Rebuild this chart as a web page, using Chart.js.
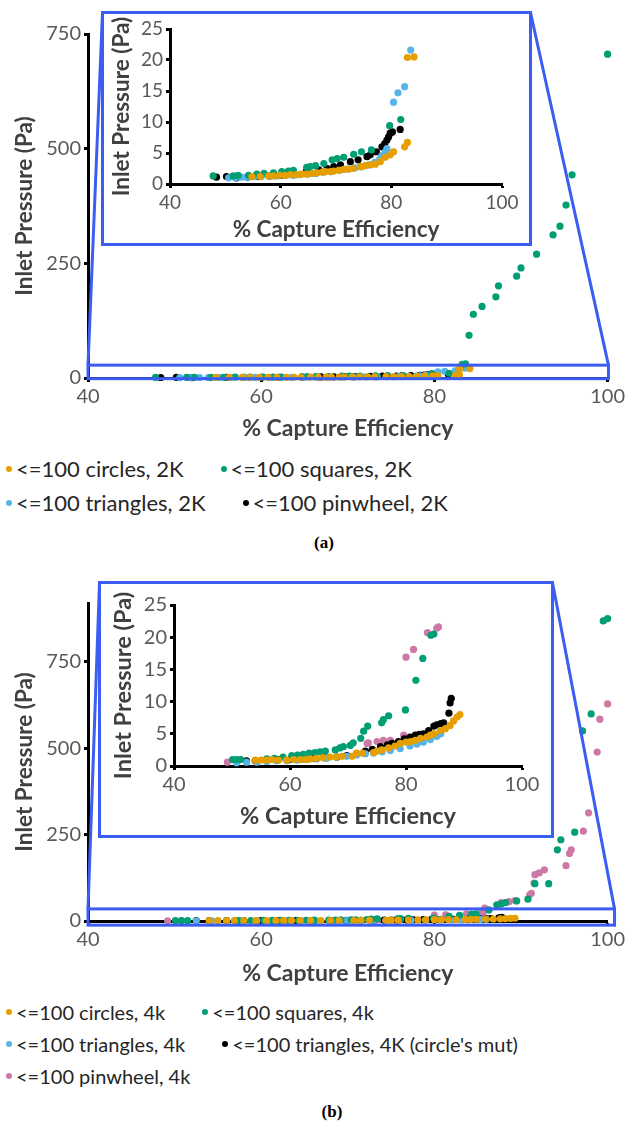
<!DOCTYPE html>
<html>
<head>
<meta charset="utf-8">
<script src="https://cdn.jsdelivr.net/npm/chart.js@4.4.1/dist/chart.umd.min.js"></script>
<style>
  html, body { margin: 0; padding: 0; background: #fff; }
  body { width: 628px; height: 1123px; position: relative; overflow: hidden; font-family: Lato, "Open Sans", sans-serif; }
  canvas { position: absolute; display: block; }
  .inset { position: absolute; box-sizing: border-box; border: 3px solid #3c5df2; background: #fff; }
  .inset canvas { left: 0; top: 0; }
  .legend { position: absolute; left: 0; display: flex; flex-wrap: wrap; padding-left: 6px; box-sizing: border-box; color: #262626; }
  .legend-item { display: flex; align-items: center; white-space: nowrap; margin-right: 37px; }
  .legend-dot { width: 6px; height: 6px; border-radius: 50%; margin-right: 4px; }
  .caption { position: absolute; font: bold 17px "Liberation Serif", serif; transform: translate(-50%, -50%); color: #000; }
</style>
</head>
<body>
<canvas id="main-a" width="628" height="450" style="left:0;top:0"></canvas>
<div class="inset" id="inset-a" style="left:101px;top:11px;width:431px;height:235px">
  <canvas id="zoom-a" width="425" height="229"></canvas>
</div>
<div class="legend" id="legend-a" style="top:452px;width:560px;font-size:22px;line-height:34px"></div>
<div class="caption" style="left:324px;top:543px">(a)</div>

<canvas id="main-b" width="628" height="430" style="left:0;top:560px"></canvas>
<div class="inset" id="inset-b" style="left:98px;top:581px;width:456px;height:257px">
  <canvas id="zoom-b" width="450" height="251"></canvas>
</div>
<div class="legend" id="legend-b" style="top:996px;width:595px;font-size:20px;line-height:32px"></div>
<div class="caption" style="left:332px;top:1112px">(b)</div>

<script>
// ── (a) 2K ──────────────────────────────────────────────
const circles2kX = [54.8,56.3,57.8,58.7,59.8,60.8,61.8,62.9,63.8,64.6,65.7,66.6,67.5,68.1,69.0,69.6,70.5,71.4,72.3,73.1,74.4,75.3,76.2,77.1,78.0,78.9,79.8,80.4,82.4,82.9,82.9,84.1];
const circles2kY = [1.2,1.2,1.3,1.3,1.4,1.4,1.5,1.5,1.6,1.6,1.7,1.8,1.9,2.0,2.0,2.1,2.2,2.35,2.4,2.5,2.8,2.95,3.1,3.2,3.6,4.3,4.7,5.2,6.0,6.7,20.4,20.5];
const squares2kX = [47.8,51.4,52.3,54.2,55.7,57.0,58.7,60.2,61.4,62.3,64.7,65.3,66.3,67.8,69.3,70.2,71.4,73.2,74.6,76.4,79.7,81.7,83.2,83.6,84.0,84.5,85.5,87.1,87.4,89.5,90.0,91.8,93.7,94.5,95.2,95.9,100.0];
const squares2kY = [1.3,1.3,1.4,1.4,1.6,1.7,1.8,2.0,2.1,2.2,2.7,2.8,2.95,3.3,3.9,4.1,4.3,4.8,5.2,5.5,9.4,10.4,30,31,93,139,156,177,201,222,240,270,312,331,377,443,706];
const triangles2kX = [50.6,51.8,52.9,53.9,55.2,56.5,58.0,59.3,61.0,62.3,63.5,65.0,66.4,67.8,69.2,70.7,72.0,73.4,74.6,75.9,77.0,77.9,78.3,78.9,79.2,80.4,81.2,82.4,83.5];
const triangles2kY = [1.0,1.0,1.1,1.1,1.2,1.2,1.3,1.3,1.4,1.4,1.5,1.6,1.7,1.9,2.0,2.2,2.4,2.6,2.8,3.1,3.5,4.0,4.6,5.2,5.7,13.2,14.7,15.7,21.6];
const pinwheel2kX = [48.4,50.2,52.0,54.0,56.0,58.0,60.0,62.0,64.7,66.9,68.4,69.6,70.8,72.6,74.0,75.6,76.2,77.3,78.3,78.8,79.2,79.5,79.8,80.2,81.6];
const pinwheel2kY = [1.1,1.2,1.0,1.1,1.2,1.3,1.4,1.6,2.2,2.3,2.5,2.8,3.1,3.6,3.9,4.4,4.7,5.2,6.0,6.5,7.1,7.6,8.2,8.4,8.8];

// ── (b) 4k ──────────────────────────────────────────────
const circles4kX = [54.0,55.0,56.0,56.9,58.0,59.4,60.6,61.7,62.6,63.5,64.5,65.7,66.9,68.0,69.0,70.7,71.5,72.5,74.4,75.0,75.8,77.0,78.1,79.0,80.0,80.8,81.6,82.5,83.6,84.2,84.8,85.9,86.8,87.6,88.2,88.8,89.3];
const circles4kY = [0.9,0.9,0.9,1.0,0.9,0.9,1.0,1.0,1.0,1.1,1.2,1.3,1.4,1.4,1.5,1.5,2.0,2.0,2.1,2.3,2.5,2.8,3.1,3.5,3.7,3.8,4.0,4.3,4.5,4.8,5.0,5.5,5.8,6.3,7.0,7.6,8.0];
const squares4kX = [50.1,50.8,51.5,56.0,57.3,58.8,60.3,61.3,62.3,63.3,64.3,65.2,66.1,67.8,68.6,69.2,70.4,70.9,72.2,72.7,73.4,75.8,76.1,77.0,79.9,81.7,82.9,84.3,84.8,86.3,87.2,87.7,88.2,89.5,90.8,91.6,93.2,94.2,94.6,96.2,97.1,98.1,99.5,100.0];
const squares4kY = [1.0,1.0,1.0,1.1,1.2,1.4,1.6,1.7,1.8,2.0,2.1,2.2,2.3,2.5,2.8,3.0,3.2,3.6,4.3,5.4,6.2,6.7,7.2,7.8,8.7,13.3,16.7,20.3,20.5,32,47,49,53,58,63,108,108,206,235,257,550,599,868,875];
const triangles4kX = [50.8,52.5,54.3,56.0,57.7,59.5,61.2,63.0,64.6,66.3,68.0,69.8,71.5,73.0,74.4,75.9,77.3,79.0,80.7,81.9,83.0,84.2,85.3,86.0];
const triangles4kY = [0.5,0.6,0.6,0.7,0.8,0.8,0.9,1.0,1.1,1.2,1.4,1.5,1.7,1.9,2.0,2.2,2.4,2.7,3.1,3.4,3.7,4.1,4.6,5.0];
const mut4kX = [52.5,54.0,56.0,58.0,60.0,62.0,64.0,66.0,68.1,69.8,71.5,73.0,74.2,75.6,76.8,77.6,78.7,79.7,80.7,81.6,82.3,83.0,83.9,84.8,85.3,86.0,86.5,87.4,87.6,87.8];
const mut4kY = [0.8,0.8,0.9,1.0,1.0,1.1,1.2,1.3,1.4,1.6,1.9,2.3,2.6,3.0,3.3,3.5,3.8,4.2,4.5,4.8,4.9,5.0,5.5,6.2,6.4,6.6,6.7,8.2,9.8,10.5];
const pinwheel4kX = [49.2,57.7,73.3,73.5,75.0,76.1,77.3,79.6,80.0,81.3,83.7,85.3,85.6,85.8,87.7,88.6,89.3,91.0,91.2,91.5,91.6,92.1,92.7,95.2,95.6,95.8,97.2,97.8,98.8,99.1,100.0];
const pinwheel4kY = [0.6,1.0,3.5,3.6,3.8,4.0,4.0,4.8,16.9,18.1,20.7,21.4,21.6,37,53,56,59,76,80,110,134,139,148,160,195,206,260,313,489,584,628];

// zoomed region drawn on the main plots (data units)
const zoomBoxA = { x0: 40, x1: 100.1, y0: -1.5, y1: 28 };
const zoomBoxB = { x0: 40, x1: 100.8, y0: -12, y1: 35 };

const ORANGE = "#e69f00", GREEN = "#009e73", SKY = "#56b4e9", BLACK = "#000000", PINK = "#cc79a7";
const TICK_GREY = "#595959", TITLE_GREY = "#404040", ZOOM_BLUE = "#3c5df2";

const seriesA = [
  { label: "<=100 circles, 2K", color: ORANGE, x: circles2kX, y: circles2kY },
  { label: "<=100 squares, 2K", color: GREEN, x: squares2kX, y: squares2kY },
  { label: "<=100 triangles, 2K", color: SKY, x: triangles2kX, y: triangles2kY },
  { label: "<=100 pinwheel, 2K", color: BLACK, x: pinwheel2kX, y: pinwheel2kY },
];
const seriesB = [
  { label: "<=100 circles, 4k", color: ORANGE, x: circles4kX, y: circles4kY },
  { label: "<=100 squares, 4k", color: GREEN, x: squares4kX, y: squares4kY },
  { label: "<=100 triangles, 4k", color: SKY, x: triangles4kX, y: triangles4kY },
  { label: "<=100 triangles, 4K (circle's mut)", color: BLACK, x: mut4kX, y: mut4kY },
  { label: "<=100 pinwheel, 4k", color: PINK, x: pinwheel4kX, y: pinwheel4kY },
];

Chart.defaults.font.family = "Lato";

// blue box around the zoomed strip + the two lines up to the inset's top corners
const zoomLines = {
  id: "zoomLines",
  afterDatasetsDraw(chart, args, opts) {
    const { ctx, scales: { x, y } } = chart;
    const b = opts.box;
    const l = x.getPixelForValue(b.x0), r = x.getPixelForValue(b.x1);
    const t = y.getPixelForValue(b.y1), bt = y.getPixelForValue(b.y0);
    const inset = document.getElementById(opts.inset);
    const c = chart.canvas;
    const il = inset.offsetLeft - c.offsetLeft + 1.5;
    const ir = inset.offsetLeft + inset.offsetWidth - c.offsetLeft - 1.5;
    const it = inset.offsetTop - c.offsetTop + 1.5;
    ctx.save();
    ctx.strokeStyle = ZOOM_BLUE;
    ctx.lineWidth = 3;
    ctx.strokeRect(l, t, r - l, bt - t);
    ctx.beginPath();
    ctx.moveTo(il, it); ctx.lineTo(l, t);
    ctx.moveTo(ir, it); ctx.lineTo(r, t);
    ctx.stroke();
    ctx.restore();
  },
};

function axis({ min, max, step, title, tickSize, titleSize, titlePad, fit }) {
  return {
    type: "linear", min, max,
    afterBuildTicks: s => { s.ticks = s.ticks.filter(t => t.value % step === 0); },
    afterFit: fit,
    ticks: { stepSize: step, color: TICK_GREY, font: { size: tickSize }, padding: 3, maxRotation: 0 },
    grid: { drawOnChartArea: false, drawTicks: true, tickLength: 4, tickWidth: 3, tickColor: "#000" },
    border: { display: true, color: "#000", width: 3 },
    title: { display: true, text: title, color: TITLE_GREY, font: { size: titleSize, weight: "bold" }, padding: titlePad },
  };
}

function scatter(id, series, cfg) {
  return new Chart(document.getElementById(id), {
    type: "scatter",
    data: {
      datasets: series.map(s => ({
        label: s.label,
        data: s.x.map((x, i) => ({ x, y: s.y[i] })),
        backgroundColor: s.color,
        borderWidth: 0,
        pointRadius: 3.6,
        pointHoverRadius: 3.6,
        clip: 6,
      })),
    },
    options: {
      responsive: false,
      animation: false,
      events: [],
      layout: { padding: cfg.pad },
      plugins: { legend: { display: false }, tooltip: { enabled: false }, zoomLines: cfg.zoom },
      scales: {
        x: axis({ min: 40, max: 100, step: 20, title: "% Capture Efficiency", tickSize: cfg.tick, titleSize: cfg.xTitle,
                  titlePad: { top: 0, bottom: cfg.xTitlePad }, fit: s => { s.height = cfg.xHeight; } }),
        y: axis({ min: 0, max: cfg.yMax, step: cfg.yStep, title: "Inlet Pressure (Pa)", tickSize: cfg.tick, titleSize: cfg.yTitle,
                  titlePad: { top: cfg.yTitlePad, bottom: 0 }, fit: s => { s.width = cfg.yWidth; } }),
      },
    },
    plugins: cfg.zoom ? [zoomLines] : [],
  });
}

function esc(str) {
  const d = document.createElement("div");
  d.textContent = str;
  return d.innerHTML;
}

function legend(id, series) {
  document.getElementById(id).innerHTML = series.map(s => `
    <span class="legend-item"><span class="legend-dot" style="background:${s.color}"></span>${esc(s.label)}</span>`).join("");
}

scatter("main-a", seriesA, { pad: { top: 34, right: 19, left: 0, bottom: 0 }, yMax: 750, yStep: 250, tick: 20,
  xTitle: 23, yTitle: 22.5, xHeight: 72, yWidth: 88, xTitlePad: 8, yTitlePad: 11.5, zoom: { box: zoomBoxA, inset: "inset-a" } });
scatter("zoom-a", seriesA, { pad: { top: 15, right: 27, left: 0, bottom: 0 }, yMax: 25, yStep: 5, tick: 19,
  xTitle: 22.5, yTitle: 22.5, xHeight: 59, yWidth: 66, xTitlePad: 0, yTitlePad: 4.5, zoom: false });
scatter("main-b", seriesB, { pad: { top: 43, right: 19, left: 0, bottom: 0 }, yMax: 920, yStep: 250, tick: 20,
  xTitle: 23, yTitle: 22.5, xHeight: 69, yWidth: 88, xTitlePad: 3, yTitlePad: 11.5, zoom: { box: zoomBoxB, inset: "inset-b" } });
scatter("zoom-b", seriesB, { pad: { top: 21, right: 29, left: 0, bottom: 0 }, yMax: 25, yStep: 5, tick: 20,
  xTitle: 23.5, yTitle: 23.5, xHeight: 69, yWidth: 73, xTitlePad: 4, yTitlePad: 8, zoom: false });

legend("legend-a", seriesA);
legend("legend-b", seriesB);
</script>
</body>
</html>
